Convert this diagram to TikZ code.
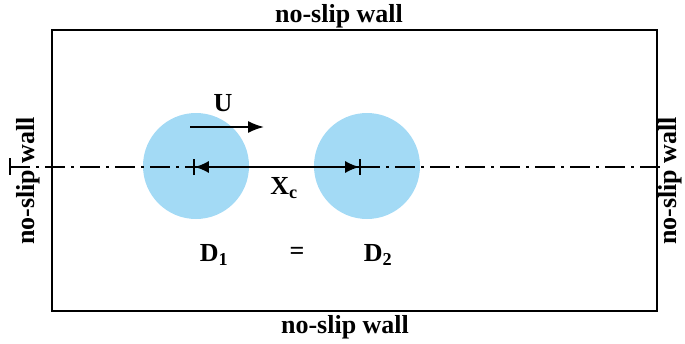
\documentclass[tikz,border=0pt]{standalone}
\usepackage{fontspec}
\setmainfont{Liberation Serif}
\usetikzlibrary{arrows.meta}
\definecolor{disk}{RGB}{163,218,245}
\begin{document}
\begin{tikzpicture}[x=1pt,y=-1pt,
  lbl/.style={font=\fontsize{26}{29}\selectfont\bfseries, inner sep=0pt},
  wall/.style={draw=black, line width=2pt},
  centre/.style={line width=1.8pt, dash pattern=on 20pt off 6pt on 3pt off 6pt},
  disc/.style={fill=disk, draw=none},
  dim/.style={line width=1.6pt, {Bar[width=16pt,line width=1.8pt]Latex[length=14pt,width=12pt]}-{Latex[length=14pt,width=12pt]Bar[width=16pt,line width=1.8pt]}},
  vel/.style={line width=1.8pt, -{Latex[length=16pt,width=12pt]}}]
\useasboundingbox (0,0) rectangle (685,343);
% discs
\fill[disc] (196,166) circle (53);
\fill[disc] (367,166) circle (53);
% channel
\draw[wall] (52,30) rectangle (657,311);
% centre line
\coordinate (cl) at (10,167);
\coordinate (cr) at (666,167);
\draw[centre] (cl) -- (cr);
\draw[line width=1.5pt] (10,158) -- (10,175);
% distance
\coordinate (xa) at (193,167);
\coordinate (xb) at (361,167);
\draw[dim] (xa) -- (xb);
% velocity
\coordinate (ua) at (190,127);
\coordinate (ub) at (264,127);
\draw[vel] (ua) -- (ub);
% labels
\node[lbl] (U) at (223,103) {U};
\node[lbl] (Xc) at (284,188) {X$_{\mathbf{c}}$};
\node[lbl] (D1) at (214,255) {D$_{\mathbf 1}$};
\node[lbl] (eq) at (297,253) {=};
\node[lbl] (D2) at (378,255) {D$_{\mathbf 2}$};
\node[lbl, anchor=base] (wt) at (339,22) {no-slip wall};
\node[lbl, anchor=base] (wb) at (345,333) {no-slip wall};
\node[lbl, rotate=90] (wl) at (28,181) {no-slip wall};
\node[lbl, rotate=90] (wr) at (670,181) {no-slip wall};
\end{tikzpicture}
\end{document}
